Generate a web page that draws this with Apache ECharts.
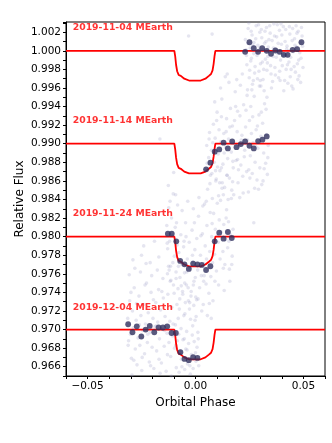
<!DOCTYPE html>
<html>
<head>
<meta charset="utf-8">
<script src="https://cdn.jsdelivr.net/npm/echarts@6/dist/echarts.min.js"></script>
<style>
  html, body { margin: 0; padding: 0; background: #fff; }
  #main { width: 332px; height: 443px; }
</style>
</head>
<body>
<div id="main"></div>
<script>
var chart = echarts.init(document.getElementById("main"));

// night labels and model baselines
var nights = ["2019-11-04 MEarth", "2019-11-14 MEarth", "2019-11-24 MEarth", "2019-12-04 MEarth"];
var baselines = [1.000, 0.990, 0.980, 0.970];
var labelX = -0.0569;
var labelY = [1.0025, 0.9925, 0.9825, 0.9724];

// transit model shape (offset from baseline)
var modelPhase = [-0.060, -0.0098, -0.0094, -0.0090, -0.0085, -0.0078, -0.0068, -0.0052, -0.0030, -0.0003,
    0.0024, 0.0046, 0.0062, 0.0072, 0.0079, 0.0084, 0.0088, 0.0092, 0.060];
var modelDip = [0, 0, -0.0006, -0.0015, -0.0022, -0.0026, -0.0027, -0.0030, -0.0032, -0.0032,
    -0.0032, -0.0030, -0.0027, -0.0025, -0.0021, -0.0014, -0.0006, 0, 0];

// raw photometry (faint cloud)
var raw1104 = [[0.0231,1.0012],[0.0238,0.9985],[0.0244,1.0024],[0.0249,0.9971],[0.0253,1.0003],[0.0259,0.9992],[0.0262,1.0017],[0.0268,0.9968],[0.0271,1.0009],[0.0276,0.9983],
    [0.0281,1.0027],[0.0285,0.9995],[0.0289,1.0006],[0.0294,0.9978],[0.0298,1.0020],[0.0303,0.9962],[0.0307,1.0014],[0.0311,1.0001],[0.0316,0.9980],[0.0320,1.0008],
    [0.0324,0.9991],[0.0329,1.0025],[0.0333,0.9987],[0.0337,1.0004],[0.0342,0.9999],[0.0346,1.0019],[0.0350,0.9975],[0.0355,1.0011],[0.0359,0.9994],[0.0363,1.0029],
    [0.0368,0.9982],[0.0372,1.0002],[0.0376,1.0015],[0.0381,0.9997],[0.0385,0.9971],[0.0389,1.0022],[0.0394,0.9990],[0.0398,1.0007],[0.0402,0.9984],[0.0407,1.0026],
    [0.0411,0.9996],[0.0415,1.0010],[0.0420,0.9980],[0.0424,1.0005],[0.0428,0.9965],[0.0433,0.9988],[0.0437,1.0018],[0.0441,0.9993],[0.0446,0.9962],[0.0450,1.0024],
    [0.0454,0.9999],[0.0459,1.0013],[0.0463,0.9977],[0.0467,1.0004],[0.0472,0.9986],[0.0476,1.0021],[0.0480,0.9973],[0.0485,1.0009],[0.0489,0.9992],[0.0494,1.0016],
    [0.0234,1.0001],[0.0241,0.9958],[0.0247,1.0030],[0.0256,0.9989],[0.0265,1.0006],[0.0274,0.9976],[0.0283,0.9998],[0.0292,1.0028],[0.0301,0.9986],[0.0313,0.9969],
    [0.0322,1.0021],[0.0331,0.9979],[0.0340,1.0012],[0.0352,0.9960],[0.0361,1.0003],[0.0370,0.9974],[0.0379,1.0028],[0.0392,0.9968],[0.0400,1.0017],[0.0409,0.9957],
    [0.0418,1.0023],[0.0431,1.0000],[0.0439,0.9972],[0.0448,1.0011],[0.0457,0.9983],[0.0466,1.0027],[0.0478,0.9990],[0.0487,0.9966],[0.0496,1.0005],
    [0.0236,0.9995],[0.0243,1.0008],[0.0251,0.9979],[0.0258,1.0021],[0.0264,0.9964],[0.0270,0.9997],[0.0279,1.0013],[0.0287,0.9970],[0.0296,1.0003],[0.0305,1.0023],
    [0.0310,0.9988],[0.0318,0.9957],[0.0327,1.0010],[0.0335,0.9994],[0.0344,1.0027],[0.0348,0.9984],[0.0357,0.9967],[0.0366,1.0016],[0.0374,0.9993],[0.0383,1.0008],
    [0.0390,0.9978],[0.0396,1.0029],[0.0405,0.9995],[0.0413,0.9968],[0.0422,1.0002],[0.0426,0.9985],[0.0435,1.0026],[0.0443,0.9980],[0.0452,0.9959],[0.0461,1.0006],
    [0.0470,1.0019],[0.0474,0.9969],[0.0483,0.9998],[0.0491,1.0025],[0.0498,0.9982]];
var raw1114 = [[0.0047,0.9872],[0.0052,0.9898],[0.0056,0.9851],[0.0061,0.9885],[0.0065,0.9912],[0.0069,0.9866],[0.0074,0.9893],[0.0078,0.9841],[0.0083,0.9921],[0.0087,0.9880],
    [0.0091,0.9906],[0.0096,0.9862],[0.0100,0.9934],[0.0105,0.9889],[0.0109,0.9915],[0.0113,0.9871],[0.0118,0.9902],[0.0122,0.9948],[0.0127,0.9878],[0.0131,0.9911],
    [0.0135,0.9853],[0.0140,0.9896],[0.0144,0.9927],[0.0149,0.9884],[0.0153,0.9905],[0.0157,0.9863],[0.0162,0.9938],[0.0166,0.9891],[0.0171,0.9919],[0.0175,0.9874],
    [0.0179,0.9900],[0.0184,0.9956],[0.0188,0.9882],[0.0193,0.9913],[0.0197,0.9858],[0.0201,0.9897],[0.0206,0.9930],[0.0210,0.9877],[0.0215,0.9909],[0.0219,0.9865],
    [0.0223,0.9942],[0.0228,0.9893],[0.0232,0.9918],[0.0237,0.9870],[0.0241,0.9904],[0.0245,0.9848],[0.0250,0.9925],[0.0254,0.9887],[0.0259,0.9911],[0.0263,0.9868],
    [0.0267,0.9901],[0.0272,0.9951],[0.0276,0.9880],[0.0281,0.9915],[0.0285,0.9861],[0.0289,0.9895],[0.0294,0.9931],[0.0298,0.9874],[0.0303,0.9908],[0.0307,0.9856],
    [0.0311,0.9922],[0.0316,0.9890],[0.0320,0.9943],[0.0325,0.9879],[0.0329,0.9910],[0.0333,0.9867],[0.0337,0.9898],
    [0.0050,0.9838],[0.0063,0.9905],[0.0076,0.9868],[0.0089,0.9945],[0.0102,0.9875],[0.0116,0.9960],[0.0129,0.9845],[0.0142,0.9913],[0.0155,0.9966],[0.0168,0.9850],
    [0.0181,0.9925],[0.0195,0.9883],[0.0208,0.9963],[0.0221,0.9847],[0.0234,0.9936],[0.0247,0.9872],[0.0261,0.9958],[0.0274,0.9852],[0.0287,0.9919],[0.0300,0.9968],
    [0.0313,0.9860],[0.0327,0.9937],[0.0335,0.9885],
    [0.0054,0.9879],[0.0067,0.9857],[0.0080,0.9901],[0.0093,0.9871],[0.0107,0.9844],[0.0120,0.9929],[0.0133,0.9890],[0.0146,0.9866],[0.0159,0.9918],[0.0173,0.9881],
    [0.0186,0.9940],[0.0199,0.9872],[0.0212,0.9904],[0.0226,0.9886],[0.0239,0.9952],[0.0252,0.9863],[0.0265,0.9929],[0.0279,0.9897],[0.0292,0.9851],[0.0305,0.9934],
    [0.0318,0.9873],[0.0331,0.9950],[0.0098,0.9925],[0.0138,0.9972],[0.0177,0.9845],[0.0217,0.9975],[0.0256,0.9940],[0.0296,0.9962],[0.0124,0.9858],[0.0191,0.9969]];
var raw1124 = [[-0.0133,0.9812],[-0.0129,0.9787],[-0.0124,0.9831],[-0.0120,0.9795],[-0.0116,0.9768],[-0.0111,0.9820],[-0.0107,0.9801],[-0.0103,0.9846],[-0.0098,0.9779],[-0.0094,0.9810],
    [-0.0090,0.9762],[-0.0085,0.9791],[-0.0081,0.9744],[-0.0077,0.9783],[-0.0072,0.9756],[-0.0068,0.9802],[-0.0064,0.9770],[-0.0059,0.9738],[-0.0055,0.9789],[-0.0051,0.9761],
    [-0.0046,0.9815],[-0.0042,0.9748],[-0.0038,0.9776],[-0.0033,0.9731],[-0.0029,0.9794],[-0.0025,0.9766],[-0.0020,0.9741],[-0.0016,0.9807],[-0.0012,0.9773],[-0.0007,0.9752],
    [-0.0003,0.9786],[0.0001,0.9735],[0.0006,0.9798],[0.0010,0.9764],[0.0014,0.9822],[0.0019,0.9745],[0.0023,0.9780],[0.0027,0.9758],[0.0032,0.9803],[0.0036,0.9727],
    [0.0040,0.9771],[0.0045,0.9790],[0.0049,0.9749],[0.0053,0.9812],[0.0058,0.9766],[0.0062,0.9739],[0.0066,0.9784],[0.0071,0.9757],[0.0075,0.9800],[0.0079,0.9772],
    [0.0084,0.9825],[0.0088,0.9781],[0.0092,0.9808],[0.0097,0.9763],[0.0101,0.9836],[0.0105,0.9794],[0.0110,0.9818],[0.0114,0.9776],[0.0118,0.9805],[0.0123,0.9852],
    [0.0127,0.9784],[0.0131,0.9813],[0.0136,0.9770],[0.0140,0.9797],[0.0144,0.9829],[0.0149,0.9788],[0.0153,0.9816],[0.0157,0.9765],[0.0162,0.9802],[0.0166,0.9841],
    [0.0170,0.9779],[0.0174,0.9808],
    [-0.0126,0.9855],[-0.0114,0.9753],[-0.0101,0.9869],[-0.0088,0.9815],[-0.0075,0.9722],[-0.0062,0.9828],[-0.0049,0.9717],[-0.0036,0.9838],[-0.0023,0.9711],[-0.0010,0.9830],
    [0.0003,0.9714],[0.0016,0.9842],[0.0029,0.9720],[0.0042,0.9835],[0.0055,0.9715],[0.0068,0.9826],[0.0081,0.9731],[0.0094,0.9860],[0.0107,0.9748],[0.0120,0.9874],
    [0.0133,0.9742],[0.0146,0.9866],[0.0159,0.9752],[0.0172,0.9859],
    [-0.0131,0.9793],[-0.0118,0.9838],[-0.0105,0.9772],[-0.0092,0.9845],[-0.0079,0.9768],[-0.0066,0.9747],[-0.0053,0.9795],[-0.0040,0.9762],[-0.0027,0.9729],[-0.0014,0.9780],
    [-0.0001,0.9756],[0.0012,0.9733],[0.0025,0.9801],[0.0038,0.9752],[0.0051,0.9776],[0.0064,0.9728],[0.0077,0.9814],[0.0090,0.9752],[0.0103,0.9801],[0.0116,0.9839],
    [0.0129,0.9766],[0.0142,0.9820],[0.0155,0.9795],[0.0168,0.9770],[-0.0122,0.9764],[-0.0083,0.9834],[-0.0044,0.9800],[-0.0005,0.9815],[0.0034,0.9833],[0.0073,0.9712],
    [0.0112,0.9858],[0.0151,0.9840]];
var raw1204 = [[-0.0314,0.9712],[-0.0310,0.9688],[-0.0305,0.9731],[-0.0301,0.9695],[-0.0297,0.9669],[-0.0292,0.9720],[-0.0288,0.9702],[-0.0284,0.9745],[-0.0279,0.9679],[-0.0275,0.9710],
    [-0.0271,0.9662],[-0.0266,0.9691],[-0.0262,0.9736],[-0.0258,0.9683],[-0.0253,0.9715],[-0.0249,0.9656],[-0.0245,0.9699],[-0.0240,0.9727],[-0.0236,0.9674],[-0.0232,0.9706],
    [-0.0227,0.9750],[-0.0223,0.9686],[-0.0219,0.9718],[-0.0214,0.9665],[-0.0210,0.9697],[-0.0206,0.9740],[-0.0201,0.9681],[-0.0197,0.9712],[-0.0193,0.9658],[-0.0188,0.9703],
    [-0.0184,0.9729],[-0.0180,0.9677],[-0.0175,0.9708],[-0.0171,0.9743],[-0.0167,0.9690],[-0.0162,0.9721],[-0.0158,0.9664],[-0.0154,0.9700],[-0.0149,0.9734],[-0.0145,0.9682],
    [-0.0141,0.9714],[-0.0136,0.9655],[-0.0132,0.9696],[-0.0128,0.9738],[-0.0123,0.9686],[-0.0119,0.9709],[-0.0115,0.9671],[-0.0110,0.9724],[-0.0106,0.9693],[-0.0102,0.9748],
    [-0.0097,0.9680],[-0.0093,0.9705],[-0.0089,0.9659],[-0.0084,0.9688],[-0.0080,0.9712],[-0.0076,0.9654],[-0.0071,0.9676],[-0.0067,0.9701],[-0.0063,0.9660],[-0.0058,0.9689],
    [-0.0054,0.9715],[-0.0050,0.9657],[-0.0045,0.9679],[-0.0041,0.9698],[-0.0037,0.9663],[-0.0032,0.9685],[-0.0028,0.9722],[-0.0024,0.9652],[-0.0019,0.9673],[-0.0015,0.9694],
    [-0.0011,0.9658],[-0.0006,0.9687],[-0.0002,0.9710],[0.0002,0.9666],[0.0007,0.9681],[0.0011,0.9697],[0.0015,0.9661],
    [-0.0307,0.9759],[-0.0294,0.9651],[-0.0281,0.9766],[-0.0268,0.9646],[-0.0255,0.9762],[-0.0242,0.9649],[-0.0229,0.9771],[-0.0216,0.9645],[-0.0203,0.9758],[-0.0190,0.9648],
    [-0.0177,0.9764],[-0.0164,0.9653],[-0.0151,0.9755],[-0.0138,0.9647],[-0.0125,0.9768],[-0.0112,0.9650],[-0.0099,0.9739],[-0.0086,0.9727],[-0.0073,0.9733],[-0.0060,0.9741],
    [-0.0047,0.9729],[-0.0034,0.9745],[-0.0021,0.9736],[-0.0008,0.9726],[0.0005,0.9732],
    [-0.0312,0.9683],[-0.0299,0.9740],[-0.0286,0.9667],[-0.0273,0.9728],[-0.0260,0.9705],[-0.0247,0.9670],[-0.0234,0.9748],[-0.0221,0.9695],[-0.0208,0.9661],[-0.0195,0.9732],
    [-0.0182,0.9704],[-0.0169,0.9668],[-0.0156,0.9741],[-0.0143,0.9699],[-0.0130,0.9673],[-0.0117,0.9752],[-0.0104,0.9706],[-0.0091,0.9683],[-0.0078,0.9695],[-0.0065,0.9668],
    [-0.0052,0.9690],[-0.0039,0.9678],[-0.0026,0.9661],[-0.0013,0.9704],[0.0000,0.9675],[0.0013,0.9690],[-0.0290,0.9775],[-0.0250,0.9780],[-0.0210,0.9772],[-0.0170,0.9778],
    [-0.0130,0.9760],[-0.0090,0.9755],[-0.0050,0.9750],[-0.0010,0.9748]];
var rawStray = [[-0.0032,1.0016],[0.0077,1.0018],[0.0147,0.9975],[0.0195,0.9935],[-0.0165,0.9905],
    [0.0205,0.9842],[-0.0190,0.9795],[0.0040,0.9758],[0.0270,0.9815],[-0.0240,0.9790]];

// binned points
var bin1104 = [[0.0230,0.99989],[0.0250,1.00092],[0.0270,1.00028],[0.0290,0.99989],[0.0309,1.00028],[0.0330,1.00000],[0.0350,0.99968],
    [0.0370,1.00003],[0.0390,0.99989],[0.0409,0.99957],[0.0427,0.99957],[0.0450,1.00010],[0.0471,1.00017],[0.0491,1.00092]];
var bin1114 = [[0.0049,0.98724],[0.0069,0.98796],[0.0089,0.98914],[0.0110,0.98939],[0.0130,0.99011],[0.0150,0.98949],[0.0170,0.99025],
    [0.0190,0.98963],[0.0210,0.98996],[0.0230,0.99025],[0.0250,0.98978],[0.0270,0.98949],[0.0290,0.99028],[0.0310,0.99043],[0.0330,0.99078]];
var bin1124 = [[-0.0128,0.98032],[-0.0110,0.98032],[-0.0089,0.97949],[-0.0071,0.97738],[-0.0051,0.97702],[-0.0031,0.97652],[-0.0011,0.97710],
    [0.0009,0.97702],[0.0029,0.97695],[0.0049,0.97641],[0.0069,0.97681],[0.0089,0.97949],[0.0110,0.98043],[0.0130,0.97978],[0.0150,0.98050],[0.0168,0.97985]];
var bin1204 = [[-0.0312,0.97057],[-0.0292,0.96971],[-0.0272,0.97035],[-0.0251,0.96925],[-0.0231,0.97000],[-0.0212,0.97039],[-0.0191,0.96971],
    [-0.0171,0.97022],[-0.0151,0.97022],[-0.0131,0.97035],[-0.0111,0.96963],[-0.0091,0.96963],[-0.0070,0.96756],[-0.0051,0.96684],
    [-0.0031,0.96670],[-0.0011,0.96702],[0.0009,0.96695]];

var rawColor = "rgba(150,150,195,0.3)";
var binColor = "#30305e";
var fontFam = "DejaVu Sans";

var series = [];
[raw1104, raw1114, raw1124, raw1204, rawStray].forEach(function (d) {
    series.push({
        type: "scatter", data: d, symbolSize: 3.6, silent: true, z: 1,
        itemStyle: { color: rawColor }
    });
});
baselines.forEach(function (b) {
    series.push({
        type: "line", showSymbol: false, silent: true, z: 3,
        data: modelPhase.map(function (p, i) { return [p, b + modelDip[i]]; }),
        lineStyle: { color: "#ff0000", width: 1.8 }
    });
});
[bin1104, bin1114, bin1124, bin1204].forEach(function (d) {
    series.push({
        type: "scatter", data: d, symbolSize: 5.8, silent: true, z: 4,
        itemStyle: { color: binColor }
    });
});
series.push({
    type: "scatter", symbolSize: 0, silent: true, z: 5,
    data: nights.map(function (n, i) { return { name: n, value: [labelX, labelY[i]] }; }),
    label: {
        show: true, position: "inside", align: "left", verticalAlign: "middle",
        formatter: "{b}", color: "#ff0000", fontWeight: "bold", fontSize: 9.3, fontFamily: fontFam
    }
});

var option = {
    animation: false,
    backgroundColor: "#fff",
    grid: { left: 66, right: 7, top: 22, bottom: 67, show: true, borderColor: "#000", borderWidth: 1 },
    xAxis: {
        type: "value", min: -0.06, max: 0.06, interval: 0.01,
        name: "Orbital Phase", nameLocation: "middle", nameGap: 17,
        nameTextStyle: { fontSize: 12, color: "#000", fontFamily: fontFam },
        axisLine: { onZero: false, lineStyle: { color: "#000", width: 1 } },
        axisTick: { length: 3, lineStyle: { color: "#000" } },
        splitLine: { show: false },
        axisLabel: {
            color: "#000", fontSize: 10.5, fontFamily: fontFam, margin: 5,
            formatter: function (v) {
                var k = Math.round(v * 100);
                if (k % 5 !== 0) return "";
                return (k < 0 ? "\u2212" : "") + Math.abs(v).toFixed(2);
            }
        }
    },
    yAxis: {
        type: "value", min: 0.965, max: 1.0031, interval: 0.001,
        name: "Relative Flux", nameLocation: "middle", nameGap: 40, nameMoveOverlap: false,
        nameTextStyle: { fontSize: 12, color: "#000", fontFamily: fontFam },
        axisLine: { show: true, onZero: false, lineStyle: { color: "#000", width: 1 } },
        axisTick: { show: true, length: 3, lineStyle: { color: "#000" } },
        splitLine: { show: false },
        axisLabel: {
            color: "#000", fontSize: 10.5, fontFamily: fontFam, margin: 5,
            formatter: function (v) {
                var k = Math.round(v * 1000);
                if (k % 2 !== 0 || Math.abs(v * 1000 - k) > 0.01) return "";
                return v.toFixed(3);
            }
        }
    },
    series: series
};
chart.setOption(option);
</script>
</body>
</html>
